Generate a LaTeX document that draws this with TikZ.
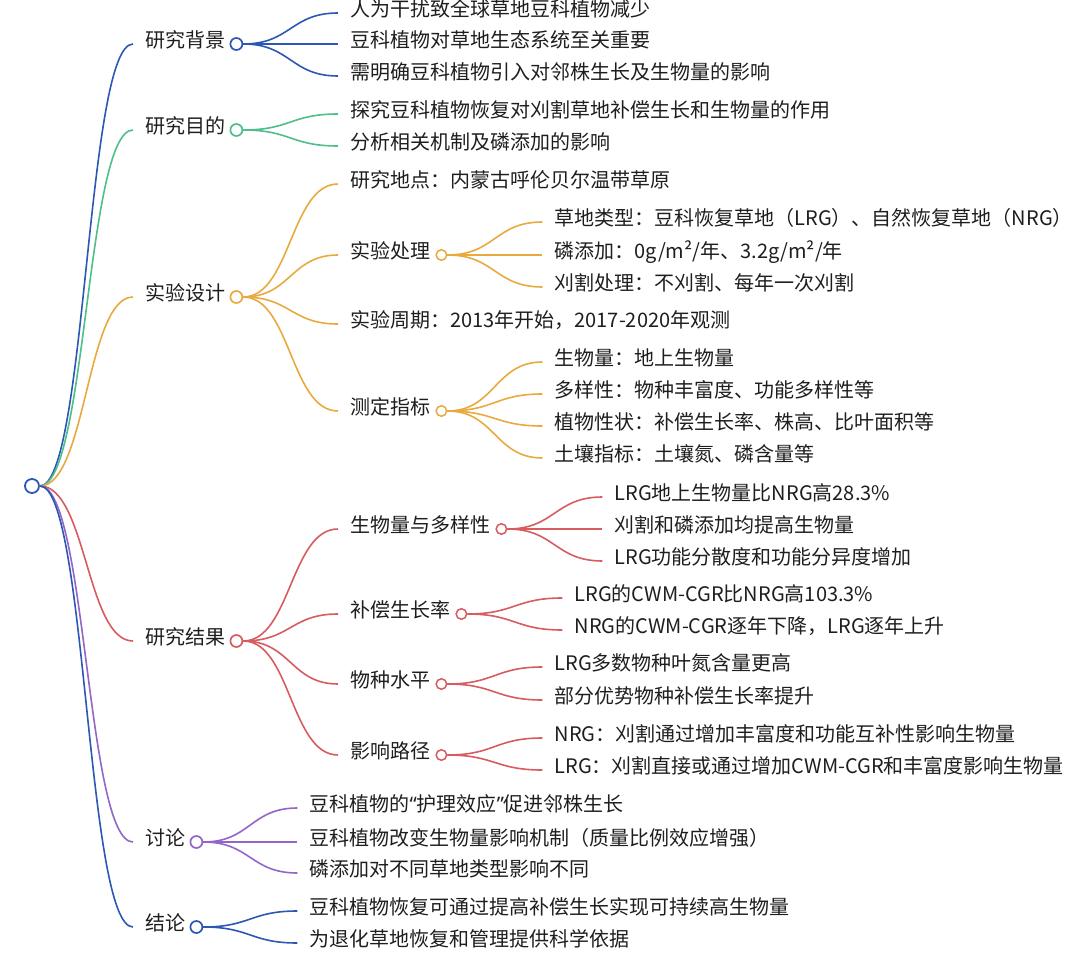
\documentclass[tikz,border=0pt]{standalone}
\usepackage{fontspec}
\setmainfont{Noto Sans CJK SC}
\newfontfamily\qf{Noto Sans}
\usetikzlibrary{calc}
\definecolor{cB}{RGB}{44,88,180}
\definecolor{cG}{RGB}{78,190,138}
\definecolor{cO}{RGB}{232,170,62}
\definecolor{cR}{RGB}{214,92,96}
\definecolor{cP}{RGB}{146,102,200}
\definecolor{tc}{RGB}{30,30,30}
\tikzset{
  txt/.style={anchor=west, inner sep=0pt, text height=0.76em, text depth=0pt,
              font=\fontsize{20}{24}\selectfont, text=tc},
  dota/.style={circle, draw=#1, fill=white, line width=1.7pt, minimum size=12pt, inner sep=0pt},
  dotb/.style={circle, draw=#1, fill=white, line width=1.5pt, minimum size=10.5pt, inner sep=0pt},
  lnk/.style={draw=#1, line width=1.6pt},
}
\newcommand\mmlink[3]{\draw[lnk=#1] let \p1=(#2.east), \p2=([xshift=-12pt]#3.west) in
  (\p1) .. controls ({0.5*\x1+0.5*\x2},\y1) and ({0.5*\x1+0.5*\x2},\y2) .. (\p2);}
\begin{document}
\begin{tikzpicture}[x=1pt,y=-1pt]
\useasboundingbox (0,0) rectangle (1080,971);
% root
\node[circle, draw=cB, fill=white, line width=1.8pt, minimum size=14pt, inner sep=0pt] (root) at (32,486) {};
% level 1
\node[txt] (a) at (145,44) {研究背景};
\node[dota=cB] (ac) at ([xshift=11pt]a.east) {};
\node[txt] (b) at (145,130) {研究目的};
\node[dota=cG] (bc) at ([xshift=11pt]b.east) {};
\node[txt] (c) at (145,297) {实验设计};
\node[dota=cO] (cc) at ([xshift=11pt]c.east) {};
\node[txt] (d) at (145,641) {研究结果};
\node[dota=cR] (dc) at ([xshift=11pt]d.east) {};
\node[txt] (e) at (145,842) {讨论};
\node[dota=cP] (ec) at ([xshift=11pt]e.east) {};
\node[txt] (f) at (145,927) {结论};
\node[dota=cB] (fc) at ([xshift=11pt]f.east) {};
% 研究背景
\node[txt] (a1) at (350,13) {人为干扰致全球草地豆科植物减少};
\node[txt] (a2) at (350,44) {豆科植物对草地生态系统至关重要};
\node[txt] (a3) at (350,76) {需明确豆科植物引入对邻株生长及生物量的影响};
% 研究目的
\node[txt] (b1) at (350,114) {探究豆科植物恢复对刈割草地补偿生长和生物量的作用};
\node[txt] (b2) at (350,146) {分析相关机制及磷添加的影响};
% 实验设计
\node[txt] (c1) at (350,184) {研究地点：内蒙古呼伦贝尔温带草原};
\node[txt] (c2) at (350,255) {实验处理};
\node[dotb=cO] (c2c) at ([xshift=11pt]c2.east) {};
\node[txt] (c3) at (350,324) {实验周期：2013年开始，2017-2020年观测};
\node[txt] (c4) at (350,411) {测定指标};
\node[dotb=cO] (c4c) at ([xshift=11pt]c4.east) {};
\node[txt] (c21) at ($(c2c)+(113,-33)$) {草地类型：豆科恢复草地（LRG）、自然恢复草地（NRG）};
\node[txt] (c22) at ($(c2c)+(113,0)$) {磷添加：0g/m²/年、3.2g/m²/年};
\node[txt] (c23) at ($(c2c)+(113,32)$) {刈割处理：不刈割、每年一次刈割};
\node[txt] (c41) at ($(c4c)+(113,-49)$) {生物量：地上生物量};
\node[txt] (c42) at ($(c4c)+(113,-17)$) {多样性：物种丰富度、功能多样性等};
\node[txt] (c43) at ($(c4c)+(113,15)$) {植物性状：补偿生长率、株高、比叶面积等};
\node[txt] (c44) at ($(c4c)+(113,47)$) {土壤指标：土壤氮、磷含量等};
% 研究结果
\node[txt] (d1) at (350,529) {生物量与多样性};
\node[dotb=cR] (d1c) at ([xshift=11pt]d1.east) {};
\node[txt] (d2) at (350,614) {补偿生长率};
\node[dotb=cR] (d2c) at ([xshift=11pt]d2.east) {};
\node[txt] (d3) at (350,684) {物种水平};
\node[dotb=cR] (d3c) at ([xshift=11pt]d3.east) {};
\node[txt] (d4) at (350,755) {影响路径};
\node[dotb=cR] (d4c) at ([xshift=11pt]d4.east) {};
\node[txt] (d11) at ($(d1c)+(113,-32)$) {LRG地上生物量比NRG高28.3\%};
\node[txt] (d12) at ($(d1c)+(113,0)$) {刈割和磷添加均提高生物量};
\node[txt] (d13) at ($(d1c)+(113,32)$) {LRG功能分散度和功能分异度增加};
\node[txt] (d21) at ($(d2c)+(113,-16)$) {LRG的CWM-CGR比NRG高103.3\%};
\node[txt] (d22) at ($(d2c)+(113,16)$) {NRG的CWM-CGR逐年下降，LRG逐年上升};
\node[txt] (d31) at ($(d3c)+(113,-17)$) {LRG多数物种叶氮含量更高};
\node[txt] (d32) at ($(d3c)+(113,16)$) {部分优势物种补偿生长率提升};
\node[txt] (d41) at ($(d4c)+(113,-17)$) {NRG：刈割通过增加丰富度和功能互补性影响生物量};
\node[txt] (d42) at ($(d4c)+(113,15)$) {LRG：刈割直接或通过增加CWM-CGR和丰富度影响生物量};
% 讨论
\node[txt] (e1) at ($(ec)+(113,-34)$) {豆科植物的{\qf “}护理效应{\qf ”}促进邻株生长};
\node[txt] (e2) at ($(ec)+(113,0)$) {豆科植物改变生物量影响机制（质量比例效应增强）};
\node[txt] (e3) at ($(ec)+(113,31)$) {磷添加对不同草地类型影响不同};
% 结论
\node[txt] (f1) at ($(fc)+(113,-16)$) {豆科植物恢复可通过提高补偿生长实现可持续高生物量};
\node[txt] (f2) at ($(fc)+(113,16)$) {为退化草地恢复和管理提供科学依据};
% links
\mmlink{cB}{root}{a}
\mmlink{cG}{root}{b}
\mmlink{cO}{root}{c}
\mmlink{cR}{root}{d}
\mmlink{cP}{root}{e}
\mmlink{cB}{root}{f}
\mmlink{cB}{ac}{a1}
\mmlink{cB}{ac}{a2}
\mmlink{cB}{ac}{a3}
\mmlink{cG}{bc}{b1}
\mmlink{cG}{bc}{b2}
\mmlink{cO}{cc}{c1}
\mmlink{cO}{cc}{c2}
\mmlink{cO}{cc}{c3}
\mmlink{cO}{cc}{c4}
\mmlink{cO}{c2c}{c21}
\mmlink{cO}{c2c}{c22}
\mmlink{cO}{c2c}{c23}
\mmlink{cO}{c4c}{c41}
\mmlink{cO}{c4c}{c42}
\mmlink{cO}{c4c}{c43}
\mmlink{cO}{c4c}{c44}
\mmlink{cR}{dc}{d1}
\mmlink{cR}{dc}{d2}
\mmlink{cR}{dc}{d3}
\mmlink{cR}{dc}{d4}
\mmlink{cR}{d1c}{d11}
\mmlink{cR}{d1c}{d12}
\mmlink{cR}{d1c}{d13}
\mmlink{cR}{d2c}{d21}
\mmlink{cR}{d2c}{d22}
\mmlink{cR}{d3c}{d31}
\mmlink{cR}{d3c}{d32}
\mmlink{cR}{d4c}{d41}
\mmlink{cR}{d4c}{d42}
\mmlink{cP}{ec}{e1}
\mmlink{cP}{ec}{e2}
\mmlink{cP}{ec}{e3}
\mmlink{cB}{fc}{f1}
\mmlink{cB}{fc}{f2}
\end{tikzpicture}
\end{document}
